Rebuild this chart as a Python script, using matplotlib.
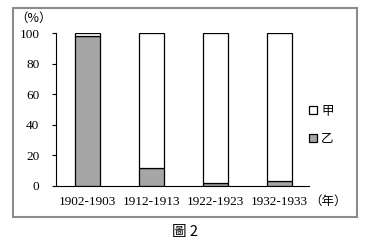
import matplotlib
matplotlib.use("Agg")
import matplotlib.pyplot as plt
from matplotlib.patches import Rectangle, Patch

categories = ["1902-1903", "1912-1913", "1922-1923", "1932-1933"]
yi = [98, 12, 2, 3]          # 乙
jia = [2, 88, 98, 97]         # 甲
yticks = [0, 20, 40, 60, 80, 100]

serif = ["Liberation Serif", "DejaVu Serif"]
cjk = ["Noto Sans CJK TC", "DejaVu Sans"]

fig = plt.figure(figsize=(3.85, 2.49), dpi=100)
fig.patches.append(Rectangle((13/385, 1-217/249), (357-13)/385, (217-8)/249,
                             transform=fig.transFigure, fill=False,
                             edgecolor="#8c8c8c", linewidth=1.5))

ax = fig.add_axes([56/385, 1-186/249, (309-56)/385, (186-33)/249])
x = list(range(len(categories)))
w = 0.39
ax.bar(x, yi, width=w, color="#a6a6a6", edgecolor="black", linewidth=0.9, label="乙")
ax.bar(x, jia, width=w, bottom=yi, color="white", edgecolor="black", linewidth=0.9, label="甲")

ax.set_xlim(-0.49, 3.465)
ax.set_ylim(0, 100)
ax.set_yticks(yticks)
ax.set_yticklabels([str(v) for v in yticks], fontfamily=serif, fontsize=9.5)
ax.set_xticks(x)
ax.set_xticklabels(categories, fontfamily=serif, fontsize=9.5)
ax.tick_params(axis="x", length=0, pad=7)
ax.tick_params(axis="y", length=3, width=0.8, pad=9, direction="out")
for s in ["top", "right"]:
    ax.spines[s].set_visible(False)
ax.spines["left"].set_linewidth(0.8)
ax.spines["bottom"].set_linewidth(0.8)

fig.text(34/385, 1-18/249, "（%）", fontfamily=cjk, fontsize=9,
         ha="center", va="center")
fig.text(328/385, 1-201/249, "（年）", fontfamily=cjk, fontsize=9,
         ha="center", va="center")
fig.text(185/385, 1-232/249, "圖 2", fontfamily=cjk, fontsize=10.5,
         ha="center", va="center")

handles = [Patch(facecolor="white", edgecolor="black", linewidth=0.9),
           Patch(facecolor="#a6a6a6", edgecolor="black", linewidth=0.9)]
leg = fig.legend(handles, ["甲", "乙"], loc="center left",
                 bbox_to_anchor=(298/385, 1-125/249), frameon=False,
                 handlelength=0.65, handleheight=0.65, handletextpad=0.3,
                 labelspacing=1.2, prop={"family": cjk, "size": 9})

fig.savefig("out.png", dpi=100)
